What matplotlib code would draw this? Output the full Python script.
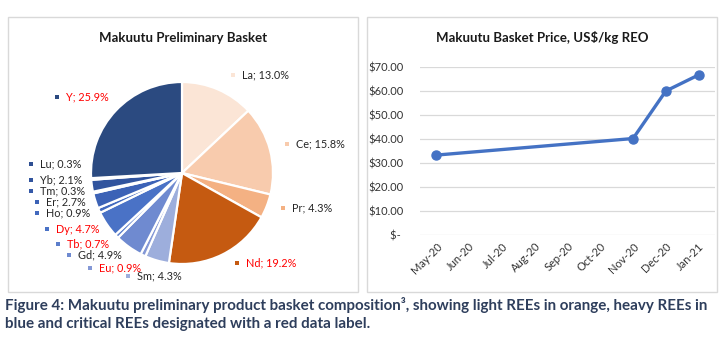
import matplotlib.pyplot as plt
from matplotlib.patches import Rectangle

plt.rcParams['font.family'] = ['Lato', 'DejaVu Sans']

# pie data (clockwise from 12 o'clock)
elements = ['La', 'Ce', 'Pr', 'Nd', 'Sm', 'Eu', 'Gd', 'Tb', 'Dy', 'Ho', 'Er', 'Tm', 'Yb', 'Lu', 'Y']
shares = [13.0, 15.8, 4.3, 19.2, 4.3, 0.9, 4.9, 0.7, 4.7, 0.9, 2.7, 0.3, 2.1, 0.3, 25.9]
critical = ['Nd', 'Eu', 'Tb', 'Dy', 'Y']

# price data
months = ['May-20', 'Jun-20', 'Jul-20', 'Aug-20', 'Sep-20', 'Oct-20', 'Nov-20', 'Dec-20', 'Jan-21']
price_months = ['May-20', 'Nov-20', 'Dec-20', 'Jan-21']
prices = [33.3, 40.2, 60.0, 66.7]
yticks = [0, 10, 20, 30, 40, 50, 60, 70]

slice_colors = ['#FBE5D6', '#F8CBAD', '#F4B183', '#C55A11',
                '#9DAEDC', '#8498D6', '#6F8AD0', '#5C7ECB', '#4A72C6', '#4269BE',
                '#3C62B6', '#3559A8', '#31549E', '#2E4F92', '#2B4A80']

# label anchor positions in pixels (marker centre)
label_px = [(233, 75), (287, 144), (283, 208), (237, 263), (128, 276), (90, 268),
            (69, 255), (58, 244), (47, 229), (37, 213), (37, 202), (31, 191),
            (31, 180), (31, 164), (57, 97)]

W, H = 725, 361
fig = plt.figure(figsize=(W / 100, H / 100), dpi=100)

def fx(x):
    return x / W

def fy(y):
    return 1 - y / H

# panel frames
for x0, x1 in [(8, 358), (367, 717)]:
    fig.add_artist(Rectangle((fx(x0), fy(292)), fx(x1 - x0), (292 - 17) / H,
                             transform=fig.transFigure, fill=False,
                             edgecolor='#D9D9D9', lw=1.0))

# ---- pie ----
cx, cy, r = 182, 173, 91
pax = fig.add_axes([fx(cx - r), fy(cy + r), fx(2 * r), 2 * r / H])
pax.pie(shares, colors=slice_colors, startangle=90, counterclock=False,
        wedgeprops=dict(edgecolor='white', linewidth=1.6))
pax.set_xlim(-1, 1)
pax.set_ylim(-1, 1)
pax.set_aspect('auto')
pax.axis('off')

fig.text(fx(183), fy(38), 'Makuutu Preliminary Basket', ha='center', va='center',
         fontsize=9.5, fontweight='bold', color='#1a1a1a')

for el, val, col, (px, py) in zip(elements, shares, slice_colors, label_px):
    fig.add_artist(Rectangle((fx(px - 2), fy(py + 2)), fx(4), 4 / H,
                             transform=fig.transFigure, color=col, lw=0))
    tcol = '#FF0000' if el in critical else '#262626'
    fig.text(fx(px + 9), fy(py), f'{el}; {val:.1f}%', ha='left', va='center',
             fontsize=7.8, color=tcol)

# ---- price line ----
lax = fig.add_axes([fx(420), fy(235), fx(295), 168 / H])
xpos = [months.index(m) for m in price_months]
lax.plot(xpos, prices, color='#4472C4', lw=2.4, marker='o', markersize=6.5)
lax.set_xlim(-0.5, len(months) - 0.5)
lax.set_ylim(0, 70)
lax.set_yticks(yticks)
lax.set_yticklabels([f'${v:.2f}' if v else '$- ' for v in yticks])
lax.set_xticks(range(len(months)))
lax.set_xticklabels(months, rotation=45, ha='right', rotation_mode='anchor')
lax.grid(axis='y', color='#D9D9D9', lw=0.9)
lax.set_axisbelow(True)
for s in lax.spines.values():
    s.set_visible(False)
lax.tick_params(length=0, labelsize=8, colors='#333333')
lax.tick_params(axis='y', pad=12)
lax.tick_params(axis='x', pad=4)

fig.text(fx(542), fy(38), 'Makuutu Basket Price, US$/kg REO', ha='center', va='center',
         fontsize=9.5, fontweight='bold', color='#1a1a1a')

# ---- caption ----
cap_col = '#2E3E5C'
fig.text(fx(5), fy(305), 'Figure 4: Makuutu preliminary product basket composition³, showing light REEs in orange, heavy REEs in',
         ha='left', va='center', fontsize=10.9, fontweight='bold', color=cap_col)
fig.text(fx(5), fy(324), 'blue and critical REEs designated with a red data label.',
         ha='left', va='center', fontsize=10.9, fontweight='bold', color=cap_col)

fig.savefig('out.png', dpi=100)
